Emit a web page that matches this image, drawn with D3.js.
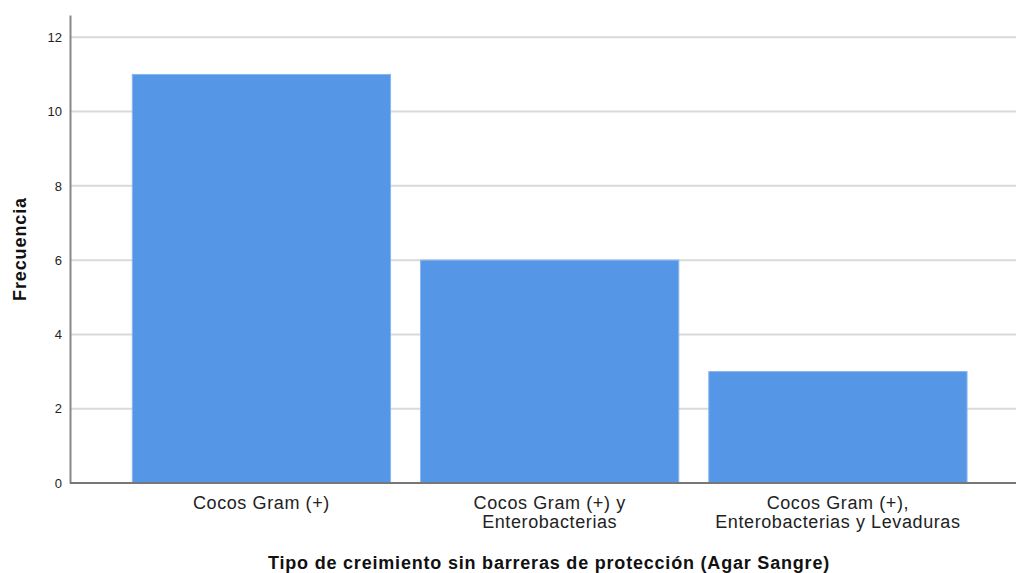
<!DOCTYPE html>
<html>
<head>
<meta charset="utf-8">
<script src="https://cdn.jsdelivr.net/npm/d3@7"></script>
<style>
  body { margin: 0; background: #fff; }
  text { font-family: "Liberation Sans", Arial, sans-serif; }
</style>
</head>
<body>
<script>
// data
var categories = [
  ["Cocos Gram (+)"],
  ["Cocos Gram (+) y", "Enterobacterias"],
  ["Cocos Gram (+),", "Enterobacterias y Levaduras"]
];
var frecuencias = [11, 6, 3];
var yTicks = [0, 2, 4, 6, 8, 10, 12];
var xTitle = "Tipo de creimiento sin barreras de protección (Agar Sangre)";
var yTitle = "Frecuencia";

// dimensions
var width = 1029;
var height = 573;
var plotLeft = 70, plotRight = 1016, plotTop = 15, plotBottom = 483;

var svg = d3.select("body")
  .append("svg")
  .attr("width", width)
  .attr("height", height);

// scales
var x = d3.scaleBand()
  .domain(d3.range(categories.length))
  .range([plotLeft, plotRight])
  .paddingInner(0.104)
  .paddingOuter(0.193)
  .align(0.56);

var y = d3.scaleLinear()
  .domain([0, 12.6])
  .range([plotBottom, plotTop]);

// gridlines
svg.selectAll(".grid")
  .data(yTicks.filter(function (d) { return d > 0; }))
  .enter()
  .append("line")
  .attr("class", "grid")
  .attr("x1", plotLeft)
  .attr("x2", plotRight)
  .attr("y1", function (d) { return y(d); })
  .attr("y2", function (d) { return y(d); })
  .style("stroke", "#d9d9d9")
  .style("stroke-width", "2px");

// bars
svg.selectAll(".bar")
  .data(frecuencias)
  .enter()
  .append("rect")
  .attr("class", "bar")
  .attr("x", function (d, i) { return x(i); })
  .attr("y", function (d) { return y(d); })
  .attr("width", x.bandwidth())
  .attr("height", function (d) { return y(0) - y(d); })
  .style("fill", "#5596e6")
  .style("stroke", "#8ab6ee")
  .style("stroke-width", "1px");

// y axis
var yAxis = d3.axisLeft(y).tickValues(yTicks).tickSize(0).tickPadding(8);
var gy = svg.append("g")
  .attr("transform", "translate(" + plotLeft + ",0)")
  .call(yAxis);
gy.select(".domain").style("stroke", "#888").style("stroke-width", "2px");
gy.selectAll("text")
  .style("font-size", "13px")
  .style("fill", "#222")
  .style("font-family", "Liberation Sans, Arial, sans-serif");

// x axis line
svg.append("line")
  .attr("x1", plotLeft)
  .attr("x2", plotRight)
  .attr("y1", y(0))
  .attr("y2", y(0))
  .style("stroke", "#777")
  .style("stroke-width", "2px");

// x labels
var xl = svg.selectAll(".xlab")
  .data(categories)
  .enter()
  .append("text")
  .attr("class", "xlab")
  .attr("text-anchor", "middle")
  .style("font-size", "18px")
  .style("letter-spacing", "0.6px")
  .style("fill", "#222");
xl.selectAll("tspan")
  .data(function (d, i) { return d.map(function (t) { return { t: t, i: i }; }); })
  .enter()
  .append("tspan")
  .attr("x", function (d) { return x(d.i) + x.bandwidth() / 2; })
  .attr("y", function (d, j) { return 509 + j * 19; })
  .text(function (d) { return d.t; });

// axis titles
svg.append("text")
  .attr("x", 549)
  .attr("y", 569)
  .attr("text-anchor", "middle")
  .style("font-size", "18px")
  .style("font-weight", "bold")
  .style("letter-spacing", "0.8px")
  .style("fill", "#111")
  .text(xTitle);

svg.append("text")
  .attr("transform", "translate(26,249) rotate(-90)")
  .attr("text-anchor", "middle")
  .style("font-size", "18px")
  .style("font-weight", "bold")
  .style("letter-spacing", "0.9px")
  .style("fill", "#111")
  .text(yTitle);
</script>
</body>
</html>
